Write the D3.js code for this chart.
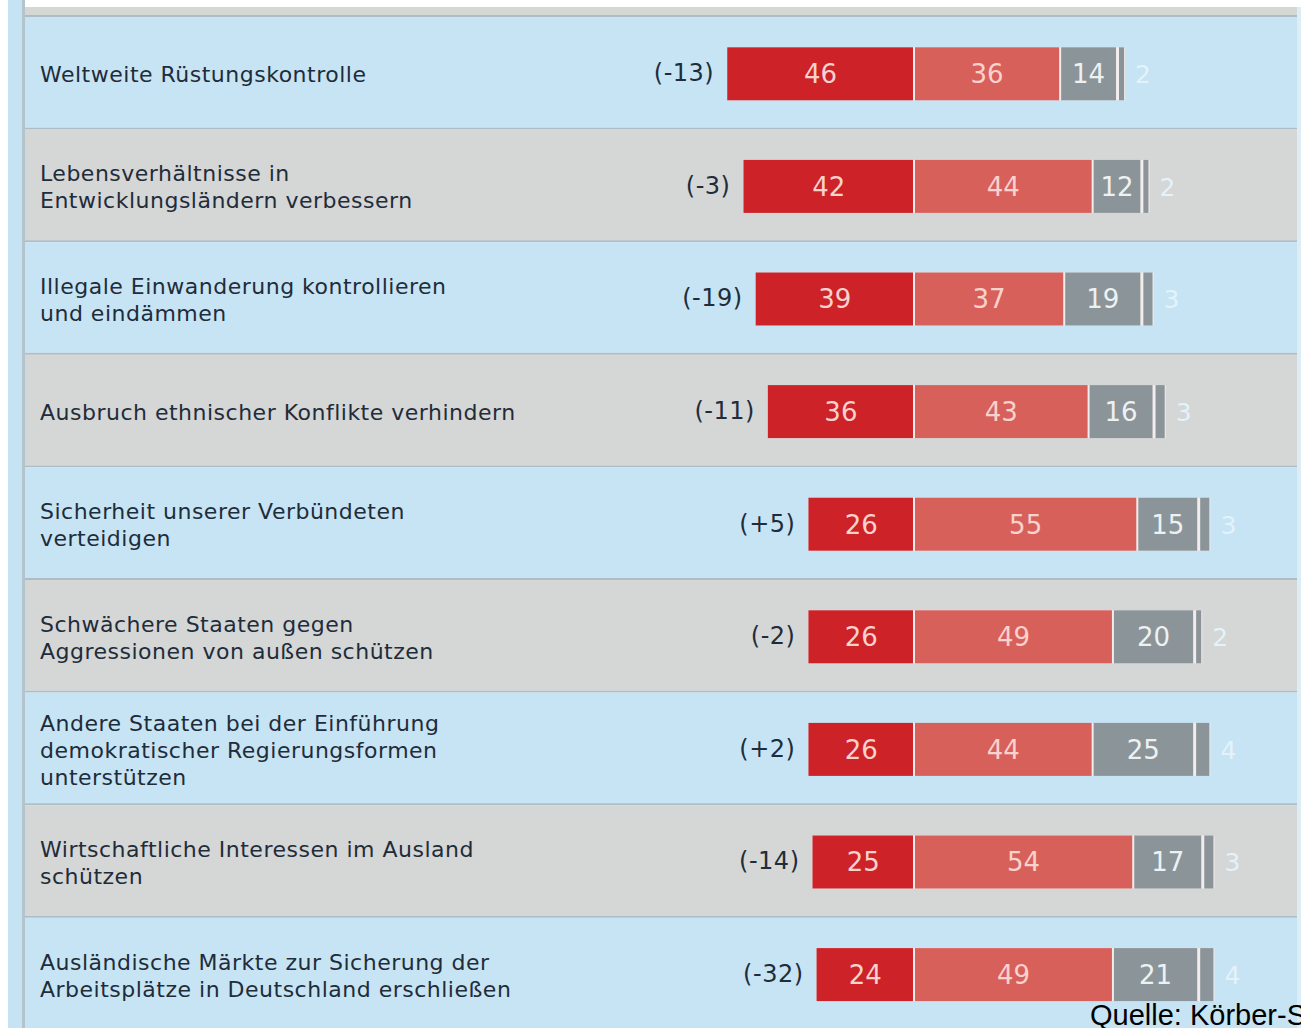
<!DOCTYPE html>
<html lang="de">
    <head>
        <meta charset="utf-8">
        <title>D3</title>
        <script type="text/javascript" src="https://cdnjs.cloudflare.com/ajax/libs/d3/7.8.5/d3.min.js"></script>
        <style type="text/css">
            body { margin: 0; background: #fff; }
            svg { display: block; }
        </style>
    </head>
    <body>
        <script type="text/javascript">
            var w = 1301;
            var h = 1028;

            // Data
            var categories = [
                ["Weltweite Rüstungskontrolle"],
                ["Lebensverhältnisse in", "Entwicklungsländern verbessern"],
                ["Illegale Einwanderung kontrollieren", "und eindämmen"],
                ["Ausbruch ethnischer Konflikte verhindern"],
                ["Sicherheit unserer Verbündeten", "verteidigen"],
                ["Schwächere Staaten gegen", "Aggressionen von außen schützen"],
                ["Andere Staaten bei der Einführung", "demokratischer Regierungsformen", "unterstützen"],
                ["Wirtschaftliche Interessen im Ausland", "schützen"],
                ["Ausländische Märkte zur Sicherung der", "Arbeitsplätze in Deutschland erschließen"]
            ];
            var sehrWichtig   = [46, 42, 39, 36, 26, 26, 26, 25, 24];
            var wichtig       = [36, 44, 37, 43, 55, 49, 44, 54, 49];
            var wenigWichtig  = [14, 12, 19, 16, 15, 20, 25, 17, 21];
            var unwichtig     = [2, 2, 3, 3, 3, 2, 4, 3, 4];
            var veraenderung  = ["(-13)", "(-3)", "(-19)", "(-11)", "(+5)", "(-2)", "(+2)", "(-14)", "(-32)"];

            var rows = categories.map(function(c, i) {
                return {
                    i: i, lines: c,
                    a: sehrWichtig[i], b: wichtig[i], c: wenigWichtig[i], d: unwichtig[i],
                    diff: veraenderung[i]
                };
            });

            var svg = d3.select("body")
                        .append("svg")
                        .attr("width", w)
                        .attr("height", h);

            var x = d3.scaleLinear()
                      .domain([0, 10])
                      .range([914, 914 + 40.6]);

            var y = d3.scaleBand()
                      .domain(d3.range(rows.length))
                      .range([17, 17 + 9 * 112.6]);

            // frame
            svg.append("rect").attr("x", 8).attr("y", 0).attr("width", 14).attr("height", h).attr("fill", "#c6e3f3");
            svg.append("rect").attr("x", 22).attr("y", 0).attr("width", 3).attr("height", h).attr("fill", "#b3c4cc");
            svg.append("rect").attr("x", 25).attr("y", 7).attr("width", 1272).attr("height", 8).attr("fill", "#d5d7d5");
            svg.append("rect").attr("x", 1297).attr("y", 7).attr("width", 4).attr("height", h).attr("fill", "#dcedf6");

            var row = svg.selectAll("g.row")
                         .data(rows)
                         .enter()
                         .append("g")
                         .attr("class", "row")
                         .attr("transform", function(d) { return "translate(0," + y(d.i) + ")"; });

            var bh = y.bandwidth();
            var cy = bh / 2;

            row.append("rect")
               .attr("x", 25)
               .attr("y", -2)
               .attr("width", 1272)
               .attr("height", 2)
               .attr("fill", "#aebdc5");

            row.append("rect")
               .attr("x", 25)
               .attr("y", 0)
               .attr("width", 1272)
               .attr("height", bh - 2)
               .attr("fill", function(d) { return d.i % 2 == 0 ? "#c6e4f4" : "#d5d6d6"; });

            // labels
            row.append("text")
               .attr("font-family", "DejaVu Sans, Verdana, sans-serif")
               .attr("font-size", "22px")
               .attr("letter-spacing", "0.5px")
               .attr("fill", "#1f2c3a")
               .each(function(d) {
                   var t = d3.select(this);
                   var n = d.lines.length;
                   d.lines.forEach(function(l, k) {
                       t.append("tspan")
                        .attr("x", 40)
                        .attr("y", cy + 9 + (k - (n - 1) / 2) * 27)
                        .text(l);
                   });
               });

            var barY = cy - 26;
            var barH = 53;

            // white under-layer shows through the gaps
            row.append("rect")
               .attr("x", function(d) { return x(-d.a); })
               .attr("y", barY)
               .attr("width", function(d) { return x(d.b + d.c + d.d) - x(-d.a); })
               .attr("height", barH)
               .attr("fill", "#f3ecec");

            row.append("rect")
               .attr("x", function(d) { return x(-d.a); })
               .attr("y", barY)
               .attr("width", function(d) { return x(0) - x(-d.a) - 1; })
               .attr("height", barH)
               .attr("fill", "#cc2228");

            row.append("rect")
               .attr("x", function(d) { return x(0) + 1; })
               .attr("y", barY)
               .attr("width", function(d) { return x(d.b) - x(0) - 2; })
               .attr("height", barH)
               .attr("fill", "#d8605a");

            row.append("rect")
               .attr("x", function(d) { return x(d.b) + 1; })
               .attr("y", barY)
               .attr("width", function(d) { return x(d.b + d.c) - x(d.b) - 2; })
               .attr("height", barH)
               .attr("fill", "#8b9599");

            row.append("rect")
               .attr("x", function(d) { return x(d.b + d.c) + 2; })
               .attr("y", barY)
               .attr("width", function(d) { return Math.max(2, x(d.b + d.c + d.d) - x(d.b + d.c) - 3); })
               .attr("height", barH)
               .attr("fill", "#8b9599");

            var valFont = "DejaVu Sans, Verdana, sans-serif";

            row.append("text")
               .attr("x", function(d) { return (x(-d.a) + x(0)) / 2; })
               .attr("y", cy + 10)
               .attr("text-anchor", "middle")
               .attr("font-family", valFont)
               .attr("font-size", "26px")
               .attr("fill", "#f8d2cc")
               .text(function(d) { return d.a; });

            row.append("text")
               .attr("x", function(d) { return (x(0) + x(d.b)) / 2; })
               .attr("y", cy + 10)
               .attr("text-anchor", "middle")
               .attr("font-family", valFont)
               .attr("font-size", "26px")
               .attr("fill", "#f8d2cc")
               .text(function(d) { return d.b; });

            row.append("text")
               .attr("x", function(d) { return (x(d.b) + x(d.b + d.c)) / 2; })
               .attr("y", cy + 10)
               .attr("text-anchor", "middle")
               .attr("font-family", valFont)
               .attr("font-size", "26px")
               .attr("fill", "#eef1f2")
               .text(function(d) { return d.c; });

            row.append("text")
               .attr("x", function(d) { return x(d.b + d.c + d.d) + 10; })
               .attr("y", cy + 10)
               .attr("font-family", valFont)
               .attr("font-size", "25px")
               .attr("fill", "#e4f2fa")
               .text(function(d) { return d.d; });

            row.append("text")
               .attr("x", function(d) { return x(-d.a) - 13; })
               .attr("y", cy + 8)
               .attr("text-anchor", "end")
               .attr("font-family", valFont)
               .attr("font-size", "24px")
               .attr("letter-spacing", "0.5px")
               .attr("fill", "#1f2c3a")
               .text(function(d) { return d.diff; });

            // source, cut at the right edge as in the original
            svg.append("text")
               .attr("x", 1090)
               .attr("y", 1025)
               .attr("font-family", "Liberation Sans, Arial, sans-serif")
               .attr("font-size", "29px")
               .attr("fill", "#000")
               .text("Quelle: Körber-Stiftung");
        </script>
    </body>
</html>
